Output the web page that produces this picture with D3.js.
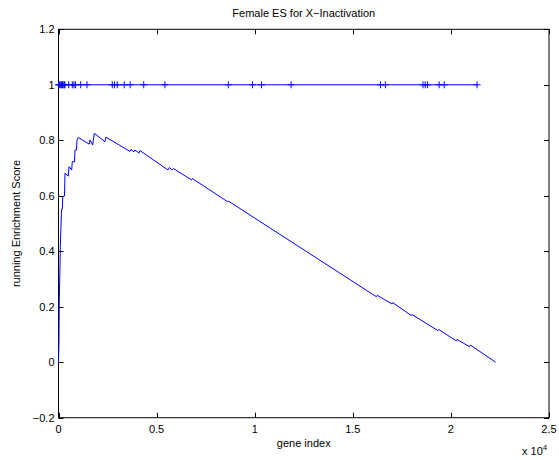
<!DOCTYPE html>
<html>
<head>
<meta charset="utf-8">
<script src="https://cdnjs.cloudflare.com/ajax/libs/d3/7.8.5/d3.min.js"></script>
<style>
  html, body { margin: 0; padding: 0; background: #fff; }
  svg text { font-family: "Liberation Sans", Arial, Helvetica, sans-serif; fill: #000; }
</style>
</head>
<body>
<svg id="chart" width="559" height="460"></svg>
<script>
// ---- data ----
const title = "Female ES for X\u2212Inactivation";
const xLabel = "gene index";
const yLabel = "running Enrichment Score";
const xTicks = [0, 5000, 10000, 15000, 20000, 25000];
const xTickLabels = ["0", "0.5", "1", "1.5", "2", "2.5"];
const yTicks = [1.2, 1, 0.8, 0.6, 0.4, 0.2, 0, -0.2];
const yTickLabels = ["1.2", "1", "0.8", "0.6", "0.4", "0.2", "0", "\u22120.2"];

// positions of hit genes (gene index) drawn on the line at y = 1
const hitIndex = [0, 40, 90, 150, 200, 240, 300, 330, 520, 703, 789, 866, 1130, 1451,
  2740, 2852, 2994, 3351, 3651, 4344, 5423, 8656, 9889, 10347, 11854,
  16412, 16661, 18576, 18688, 18805, 19401, 19661, 21335];
const hitLevel = 1;

// running enrichment score vertices
const esIndex = [0, 25, 41, 76, 92, 153, 193, 219, 306, 331, 499, 535, 672, 703, 815, 840,
  917, 942, 1008, 1568, 1604, 1741, 1823, 2368, 2419, 3641, 3692, 3844, 3895, 4099, 4150,
  5576, 5652, 5780, 5856, 6783, 6823, 8631, 8656, 16203, 16244, 16997, 17033, 17985, 18016,
  19340, 19375, 20276, 20307, 20954, 20990, 22278];
const esScore = [0, 0.08, 0.225, 0.345, 0.413, 0.551, 0.551, 0.597, 0.599, 0.681, 0.671, 0.705,
  0.693, 0.723, 0.722, 0.765, 0.765, 0.801, 0.810, 0.786, 0.801, 0.783, 0.825, 0.795, 0.811,
  0.760, 0.767, 0.758, 0.765, 0.754, 0.763, 0.693, 0.702, 0.693, 0.698, 0.657, 0.662, 0.578,
  0.581, 0.236, 0.241, 0.210, 0.215, 0.168, 0.172, 0.114, 0.118, 0.077, 0.082, 0.056, 0.062, 0];

// ---- drawing ----
const svg = d3.select("#chart");
const L = 58.5, R = 549, T = 29.3, B = 417.7;
const x = d3.scaleLinear().domain([0, 25000]).range([L, R]);
const y = d3.scaleLinear().domain([-0.2, 1.2]).range([B, T]);
const blue = "#0000ff";
const fs = 11;

// axes box
svg.append("rect").attr("x", L).attr("y", T).attr("width", R - L).attr("height", B - T)
  .attr("fill", "none").attr("stroke", "#000").attr("stroke-width", 1);

// ticks (inside, mirrored)
const tl = 5;
xTicks.forEach((v, i) => {
  const px = Math.round(x(v)) + 0.5;
  svg.append("line").attr("x1", px).attr("x2", px).attr("y1", B).attr("y2", B - tl).attr("stroke", "#000");
  svg.append("line").attr("x1", px).attr("x2", px).attr("y1", T).attr("y2", T + tl).attr("stroke", "#000");
  svg.append("text").attr("x", x(v)).attr("y", B + 15.5).attr("text-anchor", "middle")
    .attr("font-size", fs).text(xTickLabels[i]);
});
yTicks.forEach((v, i) => {
  const py = Math.round(y(v)) + 0.5;
  svg.append("line").attr("x1", L).attr("x2", L + tl).attr("y1", py).attr("y2", py).attr("stroke", "#000");
  svg.append("line").attr("x1", R).attr("x2", R - tl).attr("y1", py).attr("y2", py).attr("stroke", "#000");
  svg.append("text").attr("x", L - 4).attr("y", y(v) + 4).attr("text-anchor", "end")
    .attr("font-size", fs).text(yTickLabels[i]);
});

// exponent label
const ex = svg.append("text").attr("x", 522).attr("y", 455).attr("font-size", fs);
ex.append("tspan").text("x 10");
ex.append("tspan").attr("dy", -5).attr("font-size", 8).text("4");

// labels
svg.append("text").attr("x", (L + R) / 2).attr("y", B + 29).attr("text-anchor", "middle")
  .attr("font-size", fs).text(xLabel);
svg.append("text").attr("transform", `translate(20,${(T + B) / 2}) rotate(-90)`)
  .attr("text-anchor", "middle").attr("font-size", fs).text(yLabel);
svg.append("text").attr("x", (L + R) / 2).attr("y", T - 12).attr("text-anchor", "middle")
  .attr("font-size", fs).text(title);

// hit line with + markers
const hitLine = d3.line().x(d => x(d)).y(() => y(hitLevel));
svg.append("path").datum(hitIndex).attr("d", hitLine)
  .attr("fill", "none").attr("stroke", blue).attr("stroke-width", 1);
const ms = 3.5;
svg.selectAll("path.hit").data(hitIndex).enter().append("path").attr("class", "hit")
  .attr("d", d => `M${x(d)},${y(hitLevel) - ms}V${y(hitLevel) + ms}M${x(d) - ms},${y(hitLevel)}H${x(d) + ms}`)
  .attr("stroke", blue).attr("stroke-width", 1).attr("fill", "none");

// ES curve
const esData = esIndex.map((v, i) => [v, esScore[i]]);
svg.append("path").datum(esData)
  .attr("d", d3.line().x(d => x(d[0])).y(d => y(d[1])))
  .attr("fill", "none").attr("stroke", blue).attr("stroke-width", 1);
</script>
</body>
</html>
